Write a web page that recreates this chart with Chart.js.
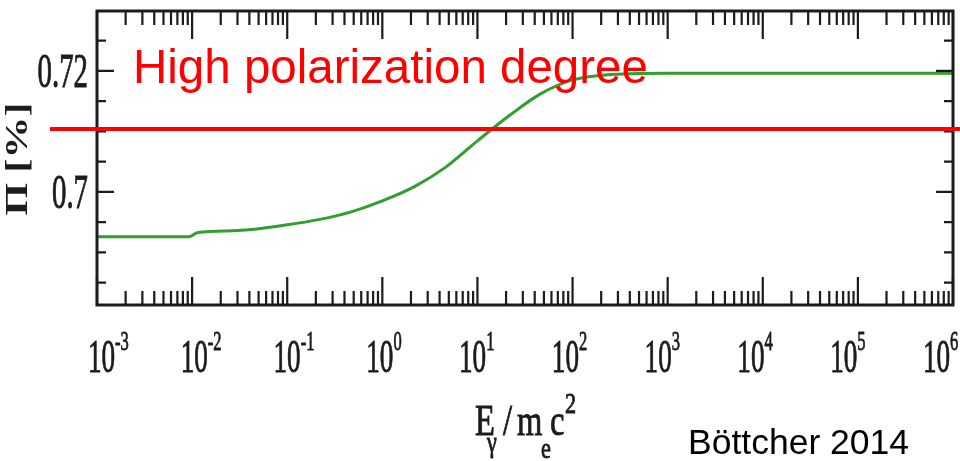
<!DOCTYPE html>
<html>
<head>
<meta charset="utf-8">
<script src="https://cdn.jsdelivr.net/npm/chart.js@4.4.1/dist/chart.umd.min.js"></script>
<style>
  html, body { margin: 0; padding: 0; background: #fff; }
  #wrap { width: 960px; height: 461px; }
</style>
</head>
<body>
<div id="wrap"><canvas id="chart" width="960" height="461"></canvas></div>
<script>
// Data (E_gamma / m_e c^2 vs polarization degree)
const energy = [1e-3, 3e-3, 9.3e-3, 1.15e-2, 3e-2, 0.1, 0.22, 0.47, 1.0, 2.2, 4.6, 10, 22, 46, 100, 220, 1e3, 1e4, 1e5, 1e6];
const polarization = [0.6926, 0.6926, 0.6926, 0.6933, 0.6936, 0.69455, 0.69545, 0.6967, 0.69851, 0.70091, 0.70405, 0.70843, 0.7127, 0.7162, 0.71851, 0.71934, 0.7196, 0.7196, 0.7196, 0.7196];

// Axis ranges and tick labels
const xMin = 1e-3, xMax = 1e6;
const yMin = 0.6813, yMax = 0.7299;
const xTickExponents = ['-3', '-2', '-1', '0', '1', '2', '3', '4', '5', '6'];
const yMajorTicks = [0.70, 0.72];
const yMajorLabels = ['0.7', '0.72'];
const yMinorStep = 0.005;

// Annotation
const threshold = 0.7104;
const annotationText = 'High polarization degree';
const creditText = 'Böttcher 2014';

const SERIF = '"Liberation Serif", "Times New Roman", serif';
const SANS = '"Liberation Sans", Arial, sans-serif';
const INK = '#1c1c1c';

// draw text squeezed horizontally, like the scanned figure
function squishText(ctx, text, x, y, font, sx, align) {
    ctx.save();
    ctx.translate(x, y);
    ctx.scale(sx, 1);
    ctx.font = font;
    ctx.textAlign = align || 'left';
    ctx.textBaseline = 'alphabetic';
    ctx.lineWidth = 0.9;
    ctx.strokeStyle = ctx.fillStyle;
    ctx.fillText(text, 0, 0);
    ctx.strokeText(text, 0, 0);
    const w = ctx.measureText(text).width * sx;
    ctx.restore();
    return w;
}

const framePlugin = {
    id: 'frame',
    afterDraw(chart) {
        const ctx = chart.ctx;
        const xs = chart.scales.x, ys = chart.scales.y;
        const a = chart.chartArea;

        ctx.save();
        ctx.strokeStyle = INK;
        ctx.fillStyle = INK;

        // box
        ctx.lineWidth = 3;
        ctx.strokeRect(a.left, a.top, a.right - a.left, a.bottom - a.top);

        // x ticks, top and bottom, pointing inwards
        ctx.lineWidth = 2.2;
        ctx.beginPath();
        for (let e = -3; e <= 6; e++) {
            for (let m = 1; m <= 9; m++) {
                const v = m * Math.pow(10, e);
                if (v > xMax) break;
                const px = xs.getPixelForValue(v);
                const len = m === 1 ? 28 : 14;
                ctx.moveTo(px, a.bottom);
                ctx.lineTo(px, a.bottom - len);
                ctx.moveTo(px, a.top);
                ctx.lineTo(px, a.top + len);
            }
        }
        // y ticks, left and right
        for (let v = 0.685; v < yMax; v += yMinorStep) {
            const py = ys.getPixelForValue(v);
            const major = yMajorTicks.some(t => Math.abs(t - v) < 1e-6);
            const len = major ? 17 : 9;
            ctx.moveTo(a.left, py);
            ctx.lineTo(a.left + len, py);
            ctx.moveTo(a.right, py);
            ctx.lineTo(a.right - len, py);
        }
        ctx.stroke();

        // x tick labels 10^n (labels in the scan drift slightly left of their ticks)
        const n = xTickExponents.length - 1;
        xTickExponents.forEach((exp, k) => {
            const px = xs.getPixelForValue(Math.pow(10, Number(exp))) + 4.5 - 21 * k / n;
            const w = squishText(ctx, '10', px, a.bottom + 67, '46px ' + SERIF, 0.59, 'center');
            squishText(ctx, exp, px + w / 2, a.bottom + 45, '28px ' + SERIF, 0.59, 'left');
        });

        // y tick labels
        yMajorTicks.forEach((v, i) => {
            const py = ys.getPixelForValue(v);
            squishText(ctx, yMajorLabels[i], a.left - 9, py + 16, '48px ' + SERIF, 0.6, 'right');
        });

        // y title, rotated
        ctx.save();
        ctx.translate(27, (a.top + a.bottom) / 2 + 1);
        ctx.rotate(-Math.PI / 2);
        ctx.scale(1, 0.75);
        ctx.font = 'bold 42px ' + SERIF;
        ctx.textAlign = 'center';
        ctx.fillText('\u03A0 [%]', 0, 0);
        ctx.restore();

        // x title  E_gamma / m_e c^2
        const big = '44px ' + SERIF, small = '30px ' + SERIF, sx = 0.74;
        squishText(ctx, 'E', 475, 435, big, sx);
        squishText(ctx, '\u03B3', 487, 452, small, sx);
        squishText(ctx, '/', 503, 435, big, sx);
        squishText(ctx, 'm', 517, 435, big, sx);
        squishText(ctx, 'e', 541, 458, small, sx);
        squishText(ctx, 'c', 550, 435, big, sx);
        squishText(ctx, '2', 565, 413, small, sx);

        // red threshold line
        const ty = ys.getPixelForValue(threshold);
        ctx.strokeStyle = '#ff0000';
        ctx.lineWidth = 4;
        ctx.beginPath();
        ctx.moveTo(50, ty);
        ctx.lineTo(chart.width, ty);
        ctx.stroke();

        // red annotation
        ctx.fillStyle = '#ff0000';
        ctx.font = '47.5px ' + SANS;
        ctx.textAlign = 'left';
        ctx.fillText(annotationText, 133, 83);

        // credit
        ctx.fillStyle = '#000';
        ctx.font = '35.5px ' + SANS;
        ctx.fillText(creditText, 688, 454);

        ctx.restore();
    }
};

new Chart(document.getElementById('chart').getContext('2d'), {
    type: 'line',
    data: {
        datasets: [{
            data: energy.map((e, i) => ({ x: e, y: polarization[i] })),
            borderColor: '#2f9f2f',
            borderWidth: 3,
            pointRadius: 0,
            cubicInterpolationMode: 'monotone',
            fill: false
        }]
    },
    options: {
        responsive: false,
        animation: false,
        layout: { padding: { left: 97, right: 7, top: 11, bottom: 156 } },
        plugins: { legend: { display: false }, tooltip: { enabled: false } },
        scales: {
            x: { type: 'logarithmic', min: xMin, max: xMax, display: false },
            y: { type: 'linear', min: yMin, max: yMax, display: false }
        }
    },
    plugins: [framePlugin]
});
</script>
</body>
</html>
